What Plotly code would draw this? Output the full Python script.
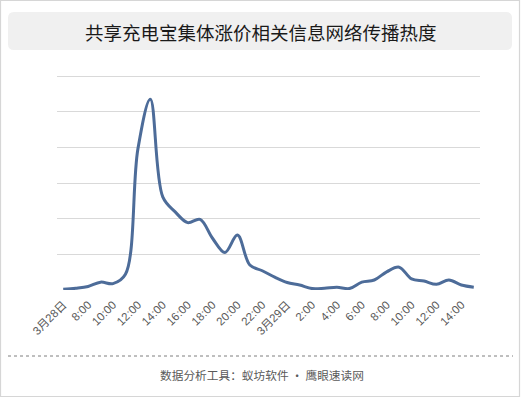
import plotly.graph_objects as go

# ---- data ----
categories = [f"3/28 {h}:00" for h in range(6, 24)] + [f"3/29 {h}:00" for h in range(0, 16)]
values = [0.02, 0.05, 0.10, 0.22, 0.18, 0.44, 3.95, 5.35, 2.61, 2.19,
          1.89, 1.98, 1.45, 1.05, 1.54, 0.70, 0.54, 0.36, 0.21, 0.14,
          0.04, 0.05, 0.08, 0.04, 0.22, 0.28, 0.51, 0.64, 0.31, 0.25,
          0.16, 0.28, 0.14, 0.08]
tick_labels = ["3月28日", "8:00", "10:00", "12:00", "14:00", "16:00", "18:00", "20:00",
               "22:00", "3月29日", "2:00", "4:00", "6:00", "8:00", "10:00", "12:00", "14:00"]
tick_vals = categories[0::2]
grid_levels = [0, 1, 2, 3, 4, 5, 6]
title_text = "共享充电宝集体涨价相关信息网络传播热度"
footer_text = "数据分析工具：蚁坊软件 · 鹰眼速读网"

W, H = 521, 398
L, R, T, B = 57, 480, 68, 290  # plot area in pixels
unit_px = (290 - 76) / 6.0
y_top = (B - T) / unit_px


def px(x):
    return (x - L) / (R - L)


def py(y):
    return (B - y) / (B - T)


fig = go.Figure()
fig.add_trace(go.Scatter(
    x=categories, y=values, mode="lines",
    line=dict(color="#4d6c99", width=3, shape="spline", smoothing=1.0),
    hoverinfo="x+y", showlegend=False,
))

# rounded title box
x0, x1, y0, y1, r = 8, 512, 12, 50, 6
path = (f"M {px(x0 + r)} {py(y0)} L {px(x1 - r)} {py(y0)} Q {px(x1)} {py(y0)} {px(x1)} {py(y0 + r)} "
        f"L {px(x1)} {py(y1 - r)} Q {px(x1)} {py(y1)} {px(x1 - r)} {py(y1)} "
        f"L {px(x0 + r)} {py(y1)} Q {px(x0)} {py(y1)} {px(x0)} {py(y1 - r)} "
        f"L {px(x0)} {py(y0 + r)} Q {px(x0)} {py(y0)} {px(x0 + r)} {py(y0)} Z")

shapes = [
    dict(type="path", xref="paper", yref="paper", path=path,
         fillcolor="#f0f0f0", line=dict(width=0), layer="below"),
    dict(type="rect", xref="paper", yref="paper",
         x0=px(0.5), x1=px(519.5), y0=py(0.5), y1=py(396.5),
         line=dict(color="#d6d6d6", width=1.2), fillcolor="rgba(0,0,0,0)", layer="below"),
    dict(type="line", xref="paper", yref="paper",
         x0=px(8), x1=px(513), y0=py(356), y1=py(356),
         line=dict(color="#7f7f7f", width=1, dash="dot")),
]

annotations = [
    dict(text=title_text, xref="paper", yref="paper", x=px(260.5), y=py(31.5),
         xanchor="center", yanchor="middle", showarrow=False,
         font=dict(family="Noto Sans CJK SC", size=18.5, color="#1a1a1a")),
    dict(text=footer_text, xref="paper", yref="paper", x=px(261.5), y=py(374),
         xanchor="center", yanchor="middle", showarrow=False,
         font=dict(family="Noto Sans CJK SC", size=11.7, color="#595959")),
]

fig.update_layout(
    width=W, height=H,
    margin=dict(l=L, r=W - R, t=T, b=H - B, pad=0, autoexpand=False),
    paper_bgcolor="white", plot_bgcolor="white",
    shapes=shapes, annotations=annotations,
    xaxis=dict(
        type="category", categoryorder="array", categoryarray=categories,
        range=[-0.5, len(categories) - 0.5], automargin=False,
        tickmode="array", tickvals=tick_vals, ticktext=tick_labels,
        tickangle=-45, showgrid=False, zeroline=False, showline=False,
        ticks="", ticklabelstandoff=5,
        tickfont=dict(family="Liberation Sans, Noto Sans CJK SC", size=11.5, color="#595959"),
    ),
    yaxis=dict(
        range=[0, y_top], tickmode="array", tickvals=grid_levels,
        showticklabels=False, showgrid=True, automargin=False,
        gridcolor="#d9d9d9", gridwidth=1, zeroline=False, showline=False, ticks="",
    ),
)

fig.write_html("out.html", config={"displayModeBar": False},
               post_script="document.body.style.margin='0';document.body.style.overflow='hidden';")
